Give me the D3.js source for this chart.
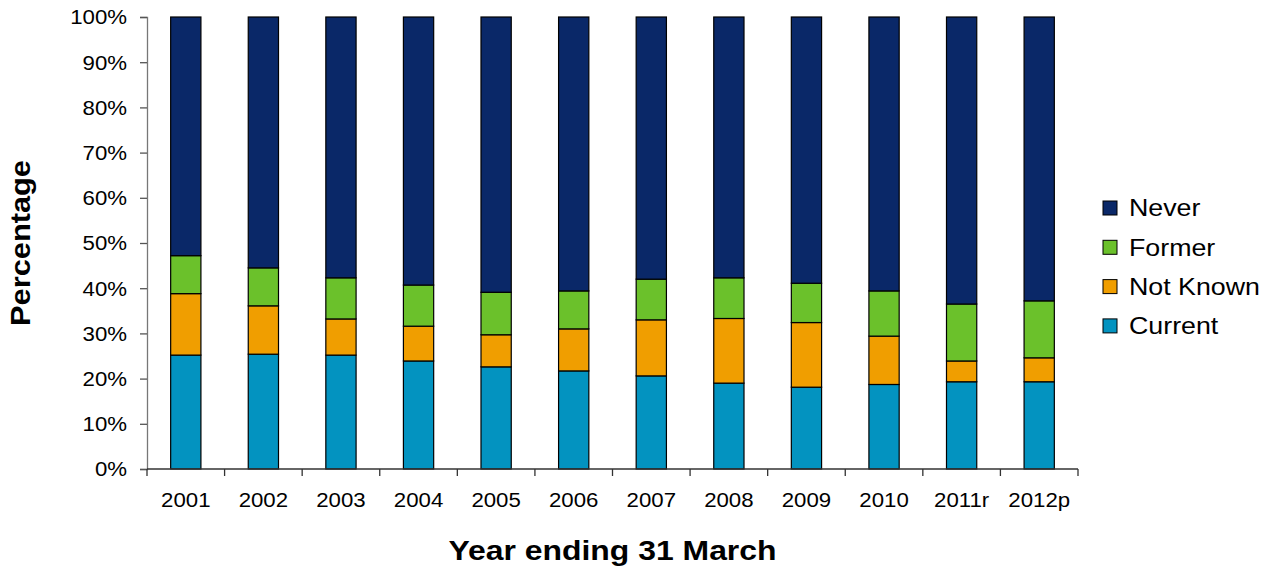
<!DOCTYPE html>
<html>
<head>
<meta charset="utf-8">
<script src="https://cdn.jsdelivr.net/npm/d3@7"></script>
<style>
  html, body { margin: 0; padding: 0; background: #fff; }
  svg { display: block; font-family: "Liberation Sans", Arial, sans-serif; }
  .wide { transform-box: fill-box; transform: scaleX(1.14); }
  .wide.mid { transform-origin: 50% 50%; }
  .wide.end { transform-origin: 100% 50%; }
  .wide.start { transform-origin: 0% 50%; }
</style>
</head>
<body>
<script>
// Smoking status of records, year ending 31 March (percent of total)
const years = ["2001","2002","2003","2004","2005","2006","2007","2008","2009","2010","2011r","2012p"];
const current   = [25.2, 25.4, 25.2, 23.9, 22.6, 21.7, 20.6, 19.0, 18.1, 18.7, 19.3, 19.3];
const notKnown  = [13.6, 10.7,  8.0,  7.7,  7.1,  9.3, 12.4, 14.3, 14.3, 10.7,  4.6,  5.3];
const former    = [ 8.4,  8.4,  9.1,  9.1,  9.4,  8.4,  9.0,  9.0,  8.7, 10.0, 12.6, 12.6];
const never     = [52.8, 55.5, 57.7, 59.3, 60.9, 60.6, 58.0, 57.7, 58.9, 60.6, 63.5, 62.8];
const yTicks    = [0, 10, 20, 30, 40, 50, 60, 70, 80, 90, 100];

const seriesKeys   = ["Current", "Not Known", "Former", "Never"];
const seriesValues = [current, notKnown, former, never];
const colors = {
  "Current": "#0393c0",
  "Not Known": "#f09e00",
  "Former": "#6bc12b",
  "Never": "#0a2868"
};

const W = 1273, H = 572;
const plotL = 147, plotR = 1078, plotT = 17, plotB = 469;

const svg = d3.select("body").append("svg").attr("width", W).attr("height", H);

const rows = years.map((yr, i) => {
  const r = { year: yr };
  seriesKeys.forEach((k, j) => r[k] = seriesValues[j][i]);
  return r;
});
const stacked = d3.stack().keys(seriesKeys)(rows);

const x = d3.scaleBand().domain(years).range([plotL, plotR]).padding(0);
const y = d3.scaleLinear().domain([0, 100]).range([plotB, plotT]);
const barW = x.bandwidth() * 0.39;

// stacked bars
svg.append("g").selectAll("g")
  .data(stacked)
  .join("g")
  .attr("fill", d => colors[d.key])
  .selectAll("rect")
  .data(d => d)
  .join("rect")
  .attr("x", d => x(d.data.year) + (x.bandwidth() - barW) / 2)
  .attr("y", d => y(Math.min(d[1], 100)))
  .attr("width", barW)
  .attr("height", d => y(d[0]) - y(Math.min(d[1], 100)))
  .attr("stroke", "#000")
  .attr("stroke-width", 1.2);

// y axis
const yAxis = svg.append("g")
  .attr("transform", `translate(${plotL},0)`)
  .call(d3.axisLeft(y).tickValues(yTicks).tickFormat(d => d + "%").tickSize(7).tickPadding(13));
yAxis.select(".domain").attr("stroke", "#777").attr("stroke-width", 1.3);
yAxis.selectAll(".tick line").attr("stroke", "#555").attr("stroke-width", 1.3);
yAxis.selectAll(".tick text")
  .attr("font-size", 19.5)
  .attr("fill", "#000")
  .attr("dy", "0.35em")
  .attr("class", "wide end");

// x axis with ticks on band boundaries
const xAxisG = svg.append("g").attr("transform", `translate(0,${plotB})`);
xAxisG.append("line")
  .attr("x1", plotL).attr("x2", plotR)
  .attr("stroke", "#333").attr("stroke-width", 1.3);
const boundaries = years.map(d => x(d)).concat([plotR]);
xAxisG.selectAll("line.tk")
  .data(boundaries)
  .join("line")
  .attr("class", "tk")
  .attr("x1", d => d).attr("x2", d => d)
  .attr("y1", 0).attr("y2", 7)
  .attr("stroke", "#333").attr("stroke-width", 1.3);
xAxisG.selectAll("text")
  .data(years)
  .join("text")
  .attr("x", d => x(d) + x.bandwidth() / 2)
  .attr("y", 38)
  .attr("text-anchor", "middle")
  .attr("font-size", 19.5)
  .attr("fill", "#000")
  .attr("class", "wide mid")
  .text(d => d);

// axis titles
svg.append("text")
  .attr("x", (plotL + plotR) / 2)
  .attr("y", 560)
  .attr("text-anchor", "middle")
  .attr("font-size", 28)
  .attr("font-weight", "bold")
  .attr("class", "wide mid")
  .text("Year ending 31 March");

svg.append("g")
  .attr("transform", `translate(30,${(plotT + plotB) / 2}) rotate(-90)`)
  .append("text")
  .attr("text-anchor", "middle")
  .attr("font-size", 27)
  .attr("font-weight", "bold")
  .attr("class", "wide mid")
  .text("Percentage");

// legend
const legendKeys = seriesKeys.slice().reverse();
const legend = svg.append("g").selectAll("g")
  .data(legendKeys)
  .join("g")
  .attr("transform", (d, i) => `translate(1103,${208 + i * 39.3})`);
legend.append("rect")
  .attr("x", 0).attr("y", -7)
  .attr("width", 14).attr("height", 14)
  .attr("fill", d => colors[d])
  .attr("stroke", "#000").attr("stroke-width", 1);
legend.append("text")
  .attr("x", 26).attr("y", 0)
  .attr("dy", "0.36em")
  .attr("font-size", 23.5)
  .attr("class", "wide start")
  .text(d => d);
</script>
</body>
</html>
